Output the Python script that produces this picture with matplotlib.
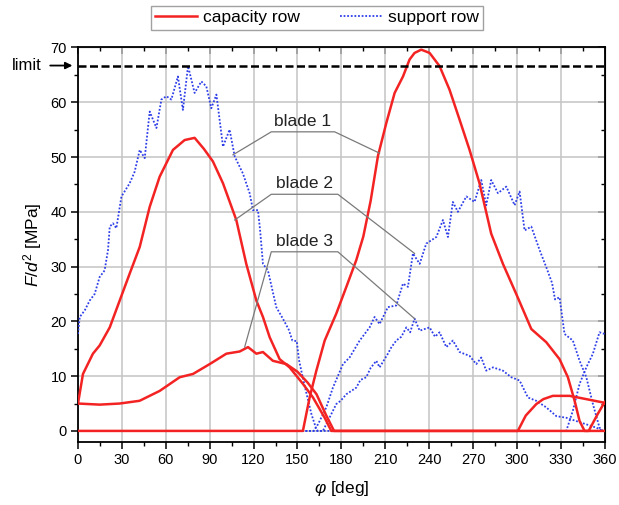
import matplotlib
matplotlib.use("Agg")
import matplotlib.pyplot as plt
from matplotlib.lines import Line2D

plt.rcParams['font.family'] = ['Liberation Sans', 'DejaVu Sans']
plt.rcParams['mathtext.fontset'] = 'custom'
plt.rcParams['mathtext.rm'] = 'Liberation Sans'
plt.rcParams['mathtext.it'] = 'Liberation Sans:italic'

# capacity row (red), one curve per blade
cap1_x = [0, 153.7, 158.3, 162.9, 168.6, 176.5, 183.4, 190.2, 195.0, 200.0, 205.0, 210.7, 216.4,
          222.1, 226.6, 230.0, 234.6, 240.3, 247.1, 253.9, 260.8, 267.6, 274.4, 282.4, 290.4,
          299.5, 309.8, 320.0, 329.1, 334.8, 339.4, 342.8, 346.2, 360]
cap1_y = [0, 0, 6.1, 11.0, 16.5, 21.4, 26.3, 31.2, 35.5, 42.0, 50.2, 56.2, 61.7,
          64.7, 67.8, 69.0, 69.6, 69.0, 66.6, 62.3, 56.8, 51.3, 45.2, 36.0, 30.5,
          25.0, 18.6, 16.2, 13.1, 9.8, 5.5, 1.8, 0, 0]

cap2_x = [0, 3.4, 10.2, 14.8, 21.7, 28.5, 35.3, 42.2, 49.0, 55.8, 64.9, 72.9, 79.7, 86.0,
          92.2, 99.1, 108.2, 115.0, 121.9, 126.4, 131.0, 137.8, 144.6, 153.7, 160.6, 168.6,
          173.1, 349.0, 355.0, 360]
cap2_y = [5.0, 10.4, 14.1, 15.6, 18.9, 23.8, 28.7, 33.6, 40.9, 46.4, 51.3, 53.1, 53.5, 51.5,
          49.2, 45.2, 38.5, 30.5, 23.8, 20.8, 17.1, 13.1, 11.6, 8.6, 6.1, 2.4,
          0, 0, 3.0, 5.3]

cap3_x = [0, 14.8, 28.5, 42.1, 55.8, 69.5, 78.6, 90.0, 101.4, 110.5, 116.2, 121.9, 126.4,
          133.2, 142.4, 150.0, 157.0, 163.0, 169.7, 175.0, 300.6, 306.0, 313.2, 318.0,
          324.5, 336.0, 347.4, 358.7, 360]
cap3_y = [5.0, 4.8, 5.0, 5.5, 7.3, 9.8, 10.4, 12.2, 14.1, 14.5, 15.3, 14.1, 14.4,
          12.8, 12.2, 10.8, 8.8, 6.7, 2.8, 0, 0, 2.8, 4.9, 5.8,
          6.4, 6.4, 5.8, 5.2, 5.0]

# support row (blue), one curve per blade
sup1_x = [0, 1.2, 4.6, 8.0, 11.4, 14.8, 18.2, 20.5, 21.7, 23.9, 26.2, 29.7, 35.3, 38.7, 42.2,
          45.6, 49.0, 53.6, 57.0, 60.4, 63.8, 68.3, 71.7, 75.2, 79.7, 84.3, 87.7, 91.1, 94.6,
          99.1, 103.6, 107.1, 112.7, 117.3, 119.6, 123.0, 124.5, 126.4, 129.8, 135.5, 140.0,
          144.0, 146.5, 149.5, 151.0, 153.0, 156.0, 159.5, 162.9, 164.0, 333.7, 338.2, 342.8,
          347.4, 351.9, 356.4, 360]
sup1_y = [17.7, 20.8, 22.0, 23.8, 25.0, 28.1, 29.3, 33.0, 37.3, 37.9, 37.0, 42.8, 45.2, 47.3, 51.3,
          49.8, 58.3, 55.3, 60.5, 61.1, 60.5, 64.7, 58.6, 66.6, 61.7, 63.8, 62.9, 58.9, 61.4,
          51.9, 55.0, 50.1, 47.0, 43.4, 40.3, 40.3, 36.5, 30.5, 29.3, 22.6, 20.5,
          18.5, 16.5, 16.4, 13.0, 10.5, 7.0, 3.1, 0.3, 0, 0, 3.7, 8.6,
          11.6, 14.1, 18.0, 17.7]

sup2_x = [0, 161.0, 164.0, 169.7, 174.2, 181.1, 185.6, 192.5, 199.3, 202.7, 206.1, 211.8, 217.5,
          222.1, 225.5, 228.9, 233.5, 238.0, 244.9, 249.4, 252.8, 256.2, 259.6, 265.4, 271.0,
          275.6, 279.0, 282.4, 287.0, 292.7, 298.4, 301.8, 305.2, 309.8, 315.5, 320.0, 324.0,
          326.0, 329.1, 332.5, 338.2, 342.8, 347.4, 351.9, 356.4, 358.7, 360]
sup2_y = [0, 0, 1.2, 4.3, 7.9, 12.2, 13.4, 16.5, 18.9, 20.8, 19.5, 22.6, 22.9,
          26.9, 26.3, 32.4, 30.5, 34.2, 35.4, 38.5, 35.4, 41.8, 40.0, 42.8, 41.8,
          45.8, 41.2, 45.8, 43.4, 44.6, 41.2, 43.7, 36.6, 37.3, 33.0, 29.9, 27.0,
          24.0, 24.4, 17.7, 16.5, 12.8, 9.8, 4.9, 0.6, 0, 0]

sup3_x = [0, 167.4, 176.5, 179.5, 183.4, 190.2, 193.0, 197.0, 200.0, 203.9, 206.1, 211.8, 214.0,
          217.5, 221.0, 224.4, 227.0, 230.0, 233.5, 240.3, 244.0, 247.1, 251.7, 256.2, 260.8,
          267.6, 272.2, 275.6, 279.0, 283.6, 290.4, 296.1, 301.8, 307.5, 313.2, 320.0, 326.9,
          333.7, 340.5, 347.4, 354.2, 358.7, 360]
sup3_y = [0, 0, 4.9, 5.5, 6.7, 7.9, 9.3, 9.8, 11.5, 12.8, 11.6, 14.1, 15.2,
          16.5, 17.2, 18.9, 18.0, 20.5, 18.3, 18.9, 17.2, 18.0, 15.3, 16.5, 14.4,
          13.7, 12.2, 13.4, 11.0, 11.6, 11.0, 9.8, 9.2, 6.1, 5.5, 4.3, 2.7,
          2.4, 1.8, 1.2, 0.6, 0, 0]

limit = 66.7

# leader lines: (curve point left, corner, corner, curve point right)
blade_labels = ["blade 1", "blade 2", "blade 3"]
leader_x = [[105.9, 132.1, 175.4, 206.1],
            [107.1, 132.1, 177.6, 230.0],
            [113.9, 132.1, 177.6, 230.0]]
leader_y = [[50.4, 54.6, 54.6, 50.7],
            [38.5, 43.2, 43.2, 32.4],
            [15.3, 32.7, 32.7, 20.5]]

red = '#f42323'
blue = '#2f3fe8'

fig = plt.figure(figsize=(6.19, 5.05), dpi=100)
ax = fig.add_axes([0.126, 0.125, 0.851, 0.781])

for xs, ys in [(sup1_x, sup1_y), (sup2_x, sup2_y), (sup3_x, sup3_y)]:
    ax.plot(xs, ys, color=blue, lw=1.3, ls=(0, (1, 1)), zorder=3)
for xs, ys in [(cap1_x, cap1_y), (cap2_x, cap2_y), (cap3_x, cap3_y)]:
    ax.plot(xs, ys, color=red, lw=1.8, zorder=4)

ax.axhline(limit, color='black', lw=1.8, dashes=(3.2, 1.4), zorder=5)
ax.annotate('limit', xy=(0, limit), xytext=(-26, 0), textcoords='offset points',
            ha='right', va='center', fontsize=12, annotation_clip=False,
            arrowprops=dict(arrowstyle='-|>', color='black', lw=1.3,
                            shrinkA=4, shrinkB=4, mutation_scale=10))

for lab, lx, ly in zip(blade_labels, leader_x, leader_y):
    ax.plot(lx, ly, color='#7a7a7a', lw=0.9, zorder=6)
    ax.text((lx[1] + lx[2]) / 2, ly[1] + 0.6, lab, ha='center', va='bottom',
            fontsize=12.5, color='#222222', zorder=6)

ax.set_xlim(0, 360)
ax.set_ylim(-2, 70)
ax.set_xticks(range(0, 361, 30))
ax.set_xticks(range(15, 360, 30), minor=True)
ax.set_yticks(range(0, 71, 10))
ax.set_yticks(range(5, 70, 10), minor=True)
ax.grid(True, which='major', color='#c4c4c4', lw=1.1)
ax.set_axisbelow(True)
ax.tick_params(which='major', direction='out', length=5, width=1.1, labelsize=10.5, pad=3)
ax.tick_params(which='minor', direction='out', length=3, width=1.0)
for s in ax.spines.values():
    s.set_linewidth(1.3)

# mirrored ticks on top and right, pointing inward
top = ax.secondary_xaxis('top')
top.set_xticks(range(0, 361, 30))
top.set_xticks(range(15, 360, 30), minor=True)
top.tick_params(which='major', direction='in', length=5, width=1.1, labeltop=False)
top.tick_params(which='minor', direction='in', length=3, width=1.0)
right = ax.secondary_yaxis('right')
right.set_yticks(range(0, 71, 10))
right.set_yticks(range(5, 70, 10), minor=True)
right.tick_params(which='major', direction='in', length=5, width=1.1, labelright=False)
right.tick_params(which='minor', direction='in', length=3, width=1.0)

ax.set_xlabel(r'$\varphi$ [deg]', fontsize=12.5, labelpad=9)
ax.set_ylabel(r'$F/d^2$ [MPa]', fontsize=12.5, labelpad=5)

handles = [Line2D([], [], color=red, lw=1.8),
           Line2D([], [], color=blue, lw=1.3, ls=(0, (1, 1)))]
fig.legend(handles, ['capacity row', 'support row'], ncol=2, loc='center',
           bbox_to_anchor=(0.512, 0.965), fontsize=12.5, frameon=True, fancybox=False,
           edgecolor='#8a8a8a', handlelength=2.4, columnspacing=2.3,
           borderpad=0.25, handletextpad=0.35, borderaxespad=0)

fig.savefig('out.png', dpi=100)
